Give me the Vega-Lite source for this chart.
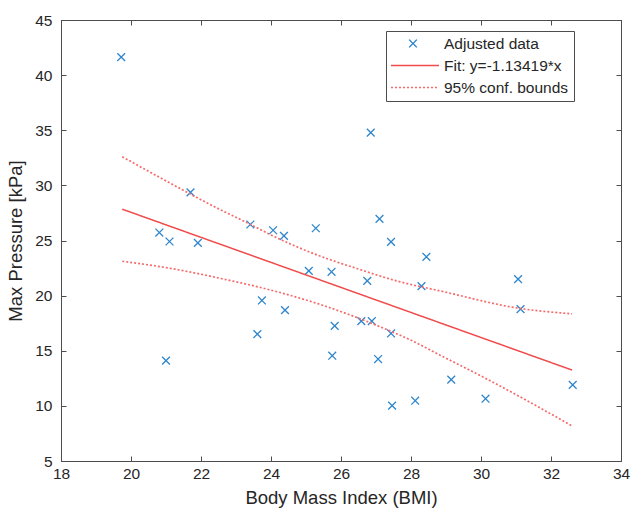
{
  "$schema": "https://vega.github.io/schema/vega-lite/v6.json",
  "autosize": {"type": "none"},
  "padding": {"left": 61, "top": 20, "right": 10, "bottom": 54},
  "width": 560,
  "height": 441,
  "background": "white",
  "config": {
    "font": "Liberation Sans",
    "view": {"stroke": "#4d4d4d", "strokeWidth": 1},
    "axis": {
      "grid": false,
      "domainColor": "#4d4d4d",
      "tickColor": "#4d4d4d",
      "tickSize": -5,
      "labelFont": "Liberation Sans",
      "labelFontSize": 15.5,
      "labelColor": "#262626",
      "titleFont": "Liberation Sans",
      "titleFontSize": 18.5,
      "titleFontWeight": "normal",
      "titleColor": "#262626"
    }
  },
  "datasets": {
    "pts": [
      {"bmi": 19.72, "p": 41.63, "series": "Adjusted data"},
      {"bmi": 20.81, "p": 25.72, "series": "Adjusted data"},
      {"bmi": 21.1, "p": 24.91, "series": "Adjusted data"},
      {"bmi": 21.0, "p": 14.1, "series": "Adjusted data"},
      {"bmi": 21.7, "p": 29.37, "series": "Adjusted data"},
      {"bmi": 21.91, "p": 24.78, "series": "Adjusted data"},
      {"bmi": 23.41, "p": 26.45, "series": "Adjusted data"},
      {"bmi": 23.61, "p": 16.51, "series": "Adjusted data"},
      {"bmi": 23.74, "p": 19.56, "series": "Adjusted data"},
      {"bmi": 24.06, "p": 25.93, "series": "Adjusted data"},
      {"bmi": 24.37, "p": 25.42, "series": "Adjusted data"},
      {"bmi": 24.4, "p": 18.69, "series": "Adjusted data"},
      {"bmi": 25.08, "p": 22.25, "series": "Adjusted data"},
      {"bmi": 25.28, "p": 26.11, "series": "Adjusted data"},
      {"bmi": 25.73, "p": 22.16, "series": "Adjusted data"},
      {"bmi": 25.75, "p": 14.55, "series": "Adjusted data"},
      {"bmi": 25.82, "p": 17.26, "series": "Adjusted data"},
      {"bmi": 26.58, "p": 17.69, "series": "Adjusted data"},
      {"bmi": 26.75, "p": 21.34, "series": "Adjusted data"},
      {"bmi": 26.85, "p": 34.78, "series": "Adjusted data"},
      {"bmi": 26.88, "p": 17.69, "series": "Adjusted data"},
      {"bmi": 27.06, "p": 14.25, "series": "Adjusted data"},
      {"bmi": 27.1, "p": 26.96, "series": "Adjusted data"},
      {"bmi": 27.43, "p": 16.57, "series": "Adjusted data"},
      {"bmi": 27.43, "p": 24.87, "series": "Adjusted data"},
      {"bmi": 27.46, "p": 10.02, "series": "Adjusted data"},
      {"bmi": 28.12, "p": 10.47, "series": "Adjusted data"},
      {"bmi": 28.3, "p": 20.86, "series": "Adjusted data"},
      {"bmi": 28.44, "p": 23.52, "series": "Adjusted data"},
      {"bmi": 29.15, "p": 12.38, "series": "Adjusted data"},
      {"bmi": 30.13, "p": 10.65, "series": "Adjusted data"},
      {"bmi": 31.06, "p": 21.5, "series": "Adjusted data"},
      {"bmi": 31.13, "p": 18.78, "series": "Adjusted data"},
      {"bmi": 32.62, "p": 11.9, "series": "Adjusted data"}
    ],
    "lines": [
      {"bmi": 19.75, "p": 27.84, "series": "Fit: y=-1.13419*x", "part": "fit"},
      {"bmi": 32.6, "p": 13.25, "series": "Fit: y=-1.13419*x", "part": "fit"},
      {"bmi": 19.75, "p": 32.6, "series": "95% conf. bounds", "part": "upper"},
      {"bmi": 20.97, "p": 30.46, "series": "95% conf. bounds", "part": "upper"},
      {"bmi": 22.4, "p": 28.04, "series": "95% conf. bounds", "part": "upper"},
      {"bmi": 23.4, "p": 26.48, "series": "95% conf. bounds", "part": "upper"},
      {"bmi": 23.97, "p": 25.55, "series": "95% conf. bounds", "part": "upper"},
      {"bmi": 25.21, "p": 23.82, "series": "95% conf. bounds", "part": "upper"},
      {"bmi": 26.45, "p": 22.46, "series": "95% conf. bounds", "part": "upper"},
      {"bmi": 27.69, "p": 21.25, "series": "95% conf. bounds", "part": "upper"},
      {"bmi": 28.83, "p": 20.43, "series": "95% conf. bounds", "part": "upper"},
      {"bmi": 31.11, "p": 18.84, "series": "95% conf. bounds", "part": "upper"},
      {"bmi": 32.6, "p": 18.35, "series": "95% conf. bounds", "part": "upper"},
      {"bmi": 19.75, "p": 23.12, "series": "95% conf. bounds", "part": "lower"},
      {"bmi": 21.26, "p": 22.4, "series": "95% conf. bounds", "part": "lower"},
      {"bmi": 22.5, "p": 21.6, "series": "95% conf. bounds", "part": "lower"},
      {"bmi": 24.26, "p": 20.28, "series": "95% conf. bounds", "part": "lower"},
      {"bmi": 25.5, "p": 19.1, "series": "95% conf. bounds", "part": "lower"},
      {"bmi": 26.59, "p": 17.85, "series": "95% conf. bounds", "part": "lower"},
      {"bmi": 27.4, "p": 16.8, "series": "95% conf. bounds", "part": "lower"},
      {"bmi": 27.97, "p": 16.0, "series": "95% conf. bounds", "part": "lower"},
      {"bmi": 28.83, "p": 14.6, "series": "95% conf. bounds", "part": "lower"},
      {"bmi": 30.07, "p": 12.6, "series": "95% conf. bounds", "part": "lower"},
      {"bmi": 31.3, "p": 10.5, "series": "95% conf. bounds", "part": "lower"},
      {"bmi": 32.6, "p": 8.18, "series": "95% conf. bounds", "part": "lower"}
    ]
  },
  "resolve": {"axis": {"x": "independent", "y": "independent"}},
  "layer": [
    {
      "data": {"name": "pts"},
      "mark": {"type": "point", "filled": false, "size": 2704, "strokeWidth": 1.3, "opacity": 1},
      "encoding": {
        "x": {
          "field": "bmi", "type": "quantitative",
          "scale": {"domain": [18, 34], "nice": false, "zero": false},
          "axis": {"orient": "bottom", "title": "Body Mass Index (BMI)", "values": [18, 20, 22, 24, 26, 28, 30, 32, 34], "labelPadding": 10, "titlePadding": 7, "labelFlush": false}
        },
        "y": {
          "field": "p", "type": "quantitative",
          "scale": {"domain": [5, 45], "nice": false, "zero": false},
          "axis": {"orient": "left", "title": "Max Pressure [kPa]", "values": [5, 10, 15, 20, 25, 30, 35, 40, 45], "labelPadding": 14, "titlePadding": 9, "labelFlush": false}
        },
        "color": {
          "field": "series", "type": "nominal",
          "scale": {"domain": ["Adjusted data", "Fit: y=-1.13419*x", "95% conf. bounds"], "range": ["#2f86cc", "#f04a4a", "#f56b6b"]},
          "legend": {
            "title": null, "orient": "none", "legendX": 325, "legendY": 11,
            "padding": 5, "strokeColor": "#4d4d4d", "fillColor": "white",
            "clipHeight": 15, "rowPadding": 6, "symbolOffset": -5, "labelOffset": 4,
            "labelFontSize": 15.5, "labelColor": "#262626", "labelFont": "Liberation Sans",
            "symbolSize": 2704, "symbolStrokeWidth": 1.3, "labelLimit": 300
          }
        },
        "shape": {
          "field": "series", "type": "nominal",
          "scale": {"domain": ["Adjusted data", "Fit: y=-1.13419*x", "95% conf. bounds"], "range": ["M-0.15,-0.15L0.15,0.15M-0.15,0.15L0.15,-0.15", "stroke", "stroke"]},
          "legend": {
            "title": null, "orient": "none", "legendX": 325, "legendY": 11,
            "padding": 5, "strokeColor": "#4d4d4d", "fillColor": "white",
            "clipHeight": 15, "rowPadding": 6, "symbolOffset": -5, "labelOffset": 4,
            "labelFontSize": 15.5, "labelColor": "#262626", "labelFont": "Liberation Sans",
            "symbolSize": 2704, "symbolStrokeWidth": 1.3, "labelLimit": 300
          }
        }
      }
    },
    {
      "data": {"name": "lines"},
      "mark": {"type": "line", "interpolate": "monotone"},
      "encoding": {
        "x": {
          "field": "bmi", "type": "quantitative",
          "axis": {"orient": "top", "title": null, "labels": false, "values": [18, 20, 22, 24, 26, 28, 30, 32, 34]}
        },
        "y": {
          "field": "p", "type": "quantitative",
          "axis": {"orient": "right", "title": null, "labels": false, "values": [5, 10, 15, 20, 25, 30, 35, 40, 45]}
        },
        "detail": {"field": "part", "type": "nominal"},
        "color": {"field": "series", "type": "nominal"},
        "strokeDash": {
          "field": "series", "type": "nominal",
          "scale": {"domain": ["Adjusted data", "Fit: y=-1.13419*x", "95% conf. bounds"], "range": [[1, 0], [1, 0], [2, 2]]},
          "legend": {
            "title": null, "orient": "none", "legendX": 325, "legendY": 11,
            "padding": 5, "strokeColor": "#4d4d4d", "fillColor": "white",
            "clipHeight": 15, "rowPadding": 6, "symbolOffset": -5, "labelOffset": 4,
            "labelFontSize": 15.5, "labelColor": "#262626", "labelFont": "Liberation Sans",
            "symbolSize": 2704, "symbolStrokeWidth": 1.3, "labelLimit": 300
          }
        },
        "strokeWidth": {
          "field": "series", "type": "nominal",
          "scale": {"domain": ["Adjusted data", "Fit: y=-1.13419*x", "95% conf. bounds"], "range": [1.3, 1.7, 1.1]},
          "legend": {
            "title": null, "orient": "none", "legendX": 325, "legendY": 11,
            "padding": 5, "strokeColor": "#4d4d4d", "fillColor": "white",
            "clipHeight": 15, "rowPadding": 6, "symbolOffset": -5, "labelOffset": 4,
            "labelFontSize": 15.5, "labelColor": "#262626", "labelFont": "Liberation Sans",
            "symbolSize": 2704, "symbolStrokeWidth": 1.3, "labelLimit": 300
          }
        }
      }
    }
  ]
}
